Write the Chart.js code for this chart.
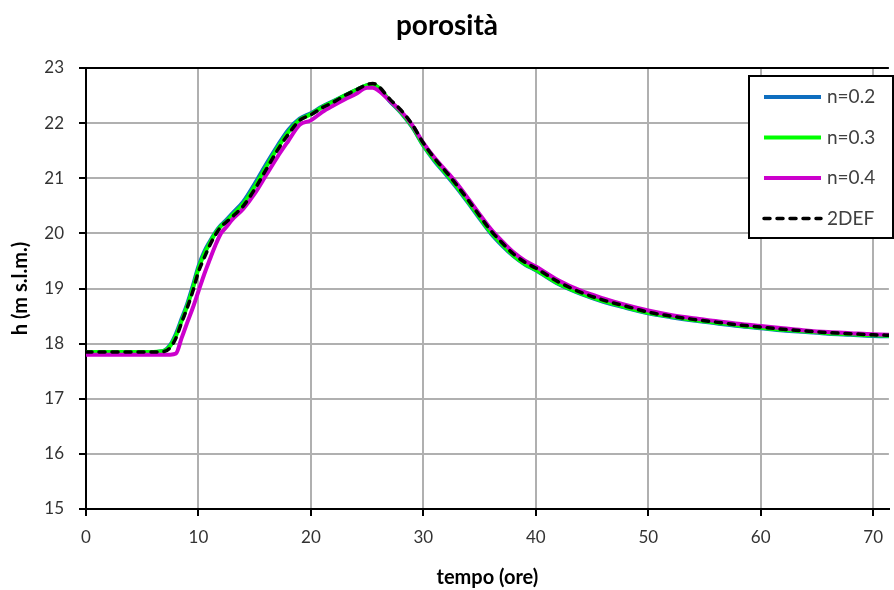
<!DOCTYPE html>
<html>
<head>
<meta charset="utf-8">
<script src="https://cdn.jsdelivr.net/npm/chart.js@4/dist/chart.umd.min.js"></script>
<style>
  html, body { margin: 0; padding: 0; background: #ffffff; }
  canvas { display: block; }
</style>
</head>
<body>
<canvas id="c" width="894" height="590"></canvas>
<script>
// ---- data ----
const tempo = [0, 2, 4, 6, 7, 7.5, 8, 8.5, 9, 9.5, 10, 10.5, 11, 11.5, 12, 12.5, 13, 14, 15, 16, 17, 18, 19, 20, 21, 22, 23, 24, 25, 25.5, 26, 27, 28, 29, 30, 31, 32, 33, 34, 35, 36, 37, 38, 39, 40, 42, 44, 46, 48, 50, 52, 54, 56, 58, 60, 62, 64, 66, 68, 70, 72];

const n02 = [17.85, 17.85, 17.85, 17.85, 17.88, 17.98, 18.18, 18.45, 18.72, 19.05, 19.40, 19.66, 19.85, 20.02, 20.15, 20.25, 20.36, 20.58, 20.90, 21.25, 21.58, 21.88, 22.08, 22.18, 22.30, 22.40, 22.50, 22.60, 22.69, 22.70, 22.64, 22.40, 22.19, 21.93, 21.59, 21.31, 21.07, 20.82, 20.55, 20.27, 20.00, 19.78, 19.59, 19.44, 19.33, 19.08, 18.90, 18.76, 18.65, 18.55, 18.48, 18.42, 18.37, 18.32, 18.28, 18.24, 18.21, 18.18, 18.16, 18.14, 18.13];

const n03 = [17.85, 17.85, 17.85, 17.85, 17.87, 17.96, 18.14, 18.41, 18.68, 19.00, 19.36, 19.62, 19.82, 20.00, 20.13, 20.22, 20.33, 20.54, 20.85, 21.20, 21.54, 21.84, 22.06, 22.16, 22.29, 22.39, 22.50, 22.60, 22.69, 22.70, 22.65, 22.41, 22.20, 21.94, 21.60, 21.33, 21.09, 20.84, 20.57, 20.29, 20.02, 19.80, 19.60, 19.45, 19.34, 19.09, 18.91, 18.77, 18.66, 18.56, 18.49, 18.43, 18.38, 18.33, 18.29, 18.25, 18.22, 18.19, 18.17, 18.15, 18.14];

const n04 = [17.80, 17.80, 17.80, 17.80, 17.80, 17.80, 17.82, 18.10, 18.38, 18.65, 18.95, 19.25, 19.52, 19.78, 20.00, 20.12, 20.25, 20.45, 20.72, 21.05, 21.38, 21.68, 21.97, 22.05, 22.20, 22.32, 22.43, 22.53, 22.64, 22.64, 22.59, 22.41, 22.22, 21.97, 21.64, 21.37, 21.14, 20.90, 20.63, 20.35, 20.08, 19.86, 19.66, 19.51, 19.40, 19.15, 18.96, 18.82, 18.70, 18.60, 18.52, 18.46, 18.41, 18.36, 18.32, 18.28, 18.24, 18.21, 18.19, 18.17, 18.16];

const def2 = [17.85, 17.85, 17.85, 17.85, 17.86, 17.93, 18.10, 18.38, 18.65, 18.95, 19.30, 19.55, 19.78, 19.97, 20.12, 20.21, 20.30, 20.50, 20.80, 21.15, 21.50, 21.80, 22.05, 22.15, 22.28, 22.38, 22.50, 22.60, 22.70, 22.72, 22.67, 22.44, 22.24, 21.98, 21.64, 21.36, 21.12, 20.87, 20.60, 20.32, 20.05, 19.83, 19.63, 19.48, 19.37, 19.12, 18.93, 18.79, 18.68, 18.57, 18.50, 18.44, 18.39, 18.34, 18.30, 18.26, 18.23, 18.20, 18.18, 18.16, 18.15];

const seriesLabels = ['n=0.2', 'n=0.3', 'n=0.4', '2DEF'];
const titleText = 'porosità';
const xTitle = 'tempo (ore)';
const yTitle = 'h (m s.l.m.)';

// ---- chart ----
const FONT = 'Lato, "Liberation Sans", sans-serif';
const pts = arr => tempo.map((t, i) => ({ x: t, y: arr[i] }));

const legendPlugin = {
  id: 'boxLegend',
  afterDraw(chart) {
    const ctx = chart.ctx;
    const x0 = 749, y0 = 76, w = 144, h = 162;
    ctx.save();
    ctx.fillStyle = '#ffffff';
    ctx.fillRect(x0, y0, w, h);
    ctx.strokeStyle = '#000000';
    ctx.lineWidth = 2;
    ctx.setLineDash([]);
    ctx.strokeRect(x0, y0, w, h);
    chart.data.datasets.forEach((ds, i) => {
      const y = 97 + i * 40.5;
      ctx.beginPath();
      ctx.strokeStyle = ds.borderColor;
      ctx.lineWidth = ds.borderWidth;
      ctx.lineCap = ds.borderCapStyle || 'butt';
      ctx.setLineDash(ds.borderDash || []);
      ctx.moveTo(764, y);
      ctx.lineTo(821, y);
      ctx.stroke();
      ctx.setLineDash([]);
      ctx.fillStyle = '#404040';
      ctx.font = '19px ' + FONT;
      ctx.textAlign = 'left';
      ctx.textBaseline = 'middle';
      ctx.fillText(ds.label, 827, y);
    });
    ctx.restore();
  }
};

new Chart(document.getElementById('c'), {
  type: 'line',
  data: {
    datasets: [
      { label: seriesLabels[0], data: pts(n02), borderColor: '#0E6EBF', borderWidth: 4, order: 4 },
      { label: seriesLabels[1], data: pts(n03), borderColor: '#00FF00', borderWidth: 4, order: 3 },
      { label: seriesLabels[2], data: pts(n04), borderColor: '#CC00CC', borderWidth: 4, order: 2 },
      { label: seriesLabels[3], data: pts(def2), borderColor: '#000000', borderWidth: 3.5, borderDash: [6, 7], borderCapStyle: 'round', order: 1 }
    ]
  },
  options: {
    responsive: false,
    devicePixelRatio: 1,
    animation: false,
    elements: {
      point: { radius: 0, hoverRadius: 0 },
      line: { cubicInterpolationMode: 'monotone', fill: false }
    },
    layout: { padding: 0 },
    plugins: {
      legend: { display: false },
      tooltip: { enabled: false },
      title: {
        display: true,
        text: titleText,
        color: '#000000',
        font: { family: FONT, size: 28, weight: 'bold', lineHeight: 1.2 },
        padding: { top: 9, bottom: 25.4 }
      }
    },
    scales: {
      x: {
        type: 'linear',
        min: 0,
        max: 71.4,
        afterFit(scale) { scale.height = 81; },
        ticks: {
          stepSize: 10,
          includeBounds: false,
          color: '#333333',
          padding: 11,
          maxRotation: 0,
          font: { family: FONT, size: 17 }
        },
        grid: {
          color: '#B0B0B0',
          lineWidth: 2,
          tickColor: '#000000',
          tickLength: 7
        },
        border: { color: '#000000', width: 2 },
        title: {
          display: true,
          text: xTitle,
          color: '#000000',
          font: { family: FONT, size: 20, weight: 'bold' },
          padding: { top: 0, bottom: 0 }
        }
      },
      y: {
        min: 15,
        max: 23,
        afterFit(scale) { scale.width = 86; },
        ticks: {
          stepSize: 1,
          color: '#333333',
          padding: 15,
          font: { family: FONT, size: 17 }
        },
        grid: {
          color: ctx => (ctx.tick && ctx.tick.value === 23 ? '#000000' : '#B0B0B0'),
          lineWidth: 2,
          tickColor: '#000000',
          tickLength: 7
        },
        border: { color: '#000000', width: 2 },
        title: {
          display: true,
          text: yTitle,
          color: '#000000',
          font: { family: FONT, size: 20, weight: 'bold' },
          padding: { top: 9, bottom: 0 }
        }
      }
    }
  },
  plugins: [legendPlugin]
});
</script>
</body>
</html>
